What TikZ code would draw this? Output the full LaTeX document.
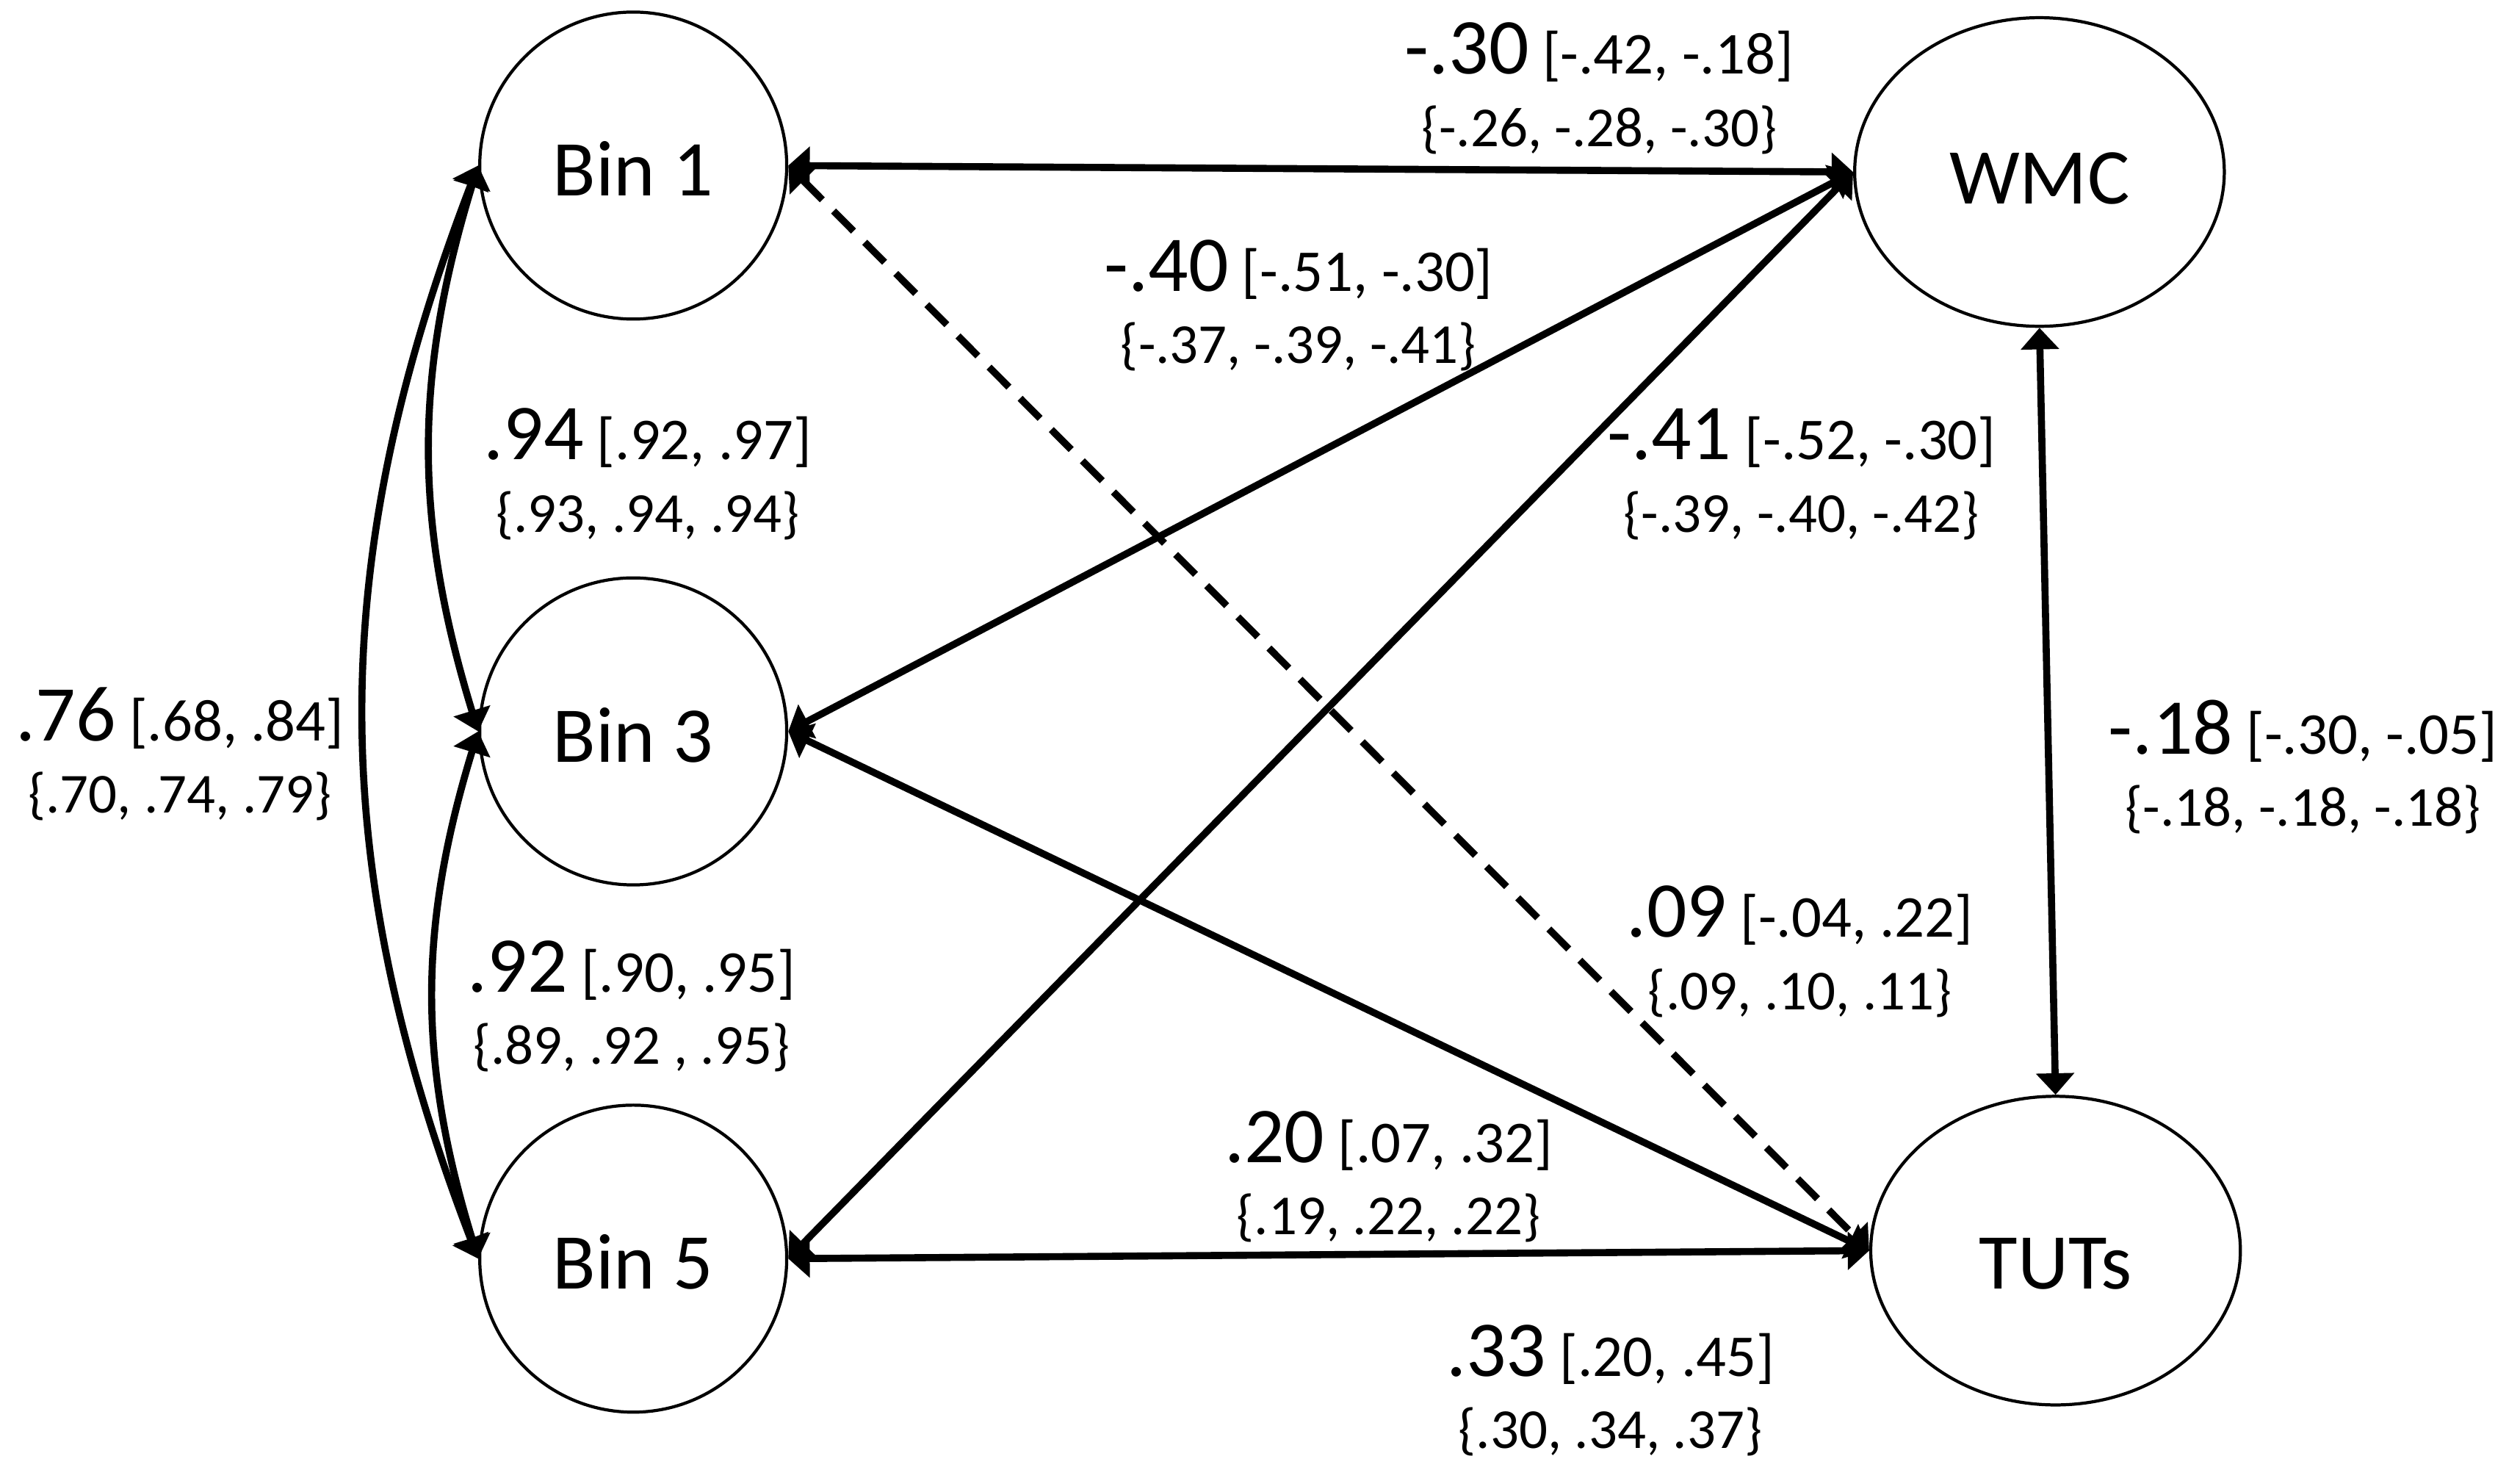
\documentclass[tikz,border=0pt]{standalone}
\usepackage{fontspec}
\setmainfont{Carlito}
\usetikzlibrary{arrows.meta,shapes.geometric}

% estimate [CI] on the first line, {three values} below
\newcommand{\coef}[3]{{\fontsize{14}{12.8}\selectfont #1} [#2]\\{\fontsize{10}{12.8}\selectfont\{#3\}}}

\begin{document}
\begin{tikzpicture}[
      lv/.style={draw, line width=0.55pt, circle, minimum size=1.91cm, inner sep=0pt, text height=0.38cm, text depth=0pt, font=\fontsize{14}{16}\selectfont},
      lvw/.style={draw, line width=0.55pt, ellipse, minimum width=2.30cm, minimum height=1.92cm, inner sep=0pt, text depth=0pt, font=\fontsize{14}{16}\selectfont},
      cov/.style={{Triangle[length=3.8pt,width=6.6pt]}-{Triangle[length=3.8pt,width=6.6pt]}, line width=1.25pt},
      lab/.style={font=\fontsize{10.5}{12.8}\selectfont, align=center, inner sep=0pt}]
    \useasboundingbox (0,0) rectangle (15.68,-9.21);
    % latent variables
    \node[lv] (b1) at (3.94,-1.03) {Bin 1};
    \node[lv] (b3) at (3.94,-4.55) {Bin 3};
    \node[lv] (b5) at (3.94,-7.83) {Bin 5};
    \node[lvw, text height=0.40cm] (wmc) at (12.69,-1.07) {WMC};
    \node[lvw, text height=0.48cm] (tuts) at (12.79,-7.78) {TUTs};
    % correlations
    \draw[cov] (b1.east) -- (wmc.west);
    \draw[cov] (b3.east) -- (wmc.west);
    \draw[cov] (b5.east) -- (wmc.west);
    \draw[cov, dash pattern=on 5pt off 2.8pt] (b1.east) -- (tuts.west);
    \draw[cov] (b3.east) -- (tuts.west);
    \draw[cov] (b5.east) -- (tuts.west);
    \draw[cov] (wmc.south) -- (tuts.north);
    \draw[cov] (b1.west) to[bend right=17] (b3.west);
    \draw[cov] (b3.west) to[bend right=17] (b5.west);
    \draw[cov] (b1.west) to[bend right=21] (b5.west);
    % estimates
    \node[lab] (e1w) at (9.95,-0.55) {\coef{-.30}{-.42, -.18}{-.26, -.28, -.30}};
    \node[lab] (e3w) at (8.08,-1.90) {\coef{-.40}{-.51, -.30}{-.37, -.39, -.41}};
    \node[lab] (e13) at (4.03,-2.95) {\coef{.94}{.92, .97}{.93, .94, .94}};
    \node[lab] (e5w) at (11.21,-2.95) {\coef{-.41}{-.52, -.30}{-.39, -.40, -.42}};
    \node[lab] (e15) at (1.12,-4.69) {\coef{.76}{.68, .84}{.70, .74, .79}};
    \node[lab] (ewt) at (14.33,-4.77) {\coef{-.18}{-.30, -.05}{-.18, -.18, -.18}};
    \node[lab] (e1t) at (11.20,-5.92) {\coef{.09}{-.04, .22}{.09, .10, .11}};
    \node[lab] (e35) at (3.93,-6.26) {\coef{.92}{.90, .95}{.89, .92 , .95}};
    \node[lab] (e5t) at (8.64,-7.32) {\coef{.20}{.07, .32}{.19, .22, .22}};
    \node[lab] (e3t) at (10.02,-8.65) {\coef{.33}{.20, .45}{.30, .34, .37}};
\end{tikzpicture}
\end{document}
